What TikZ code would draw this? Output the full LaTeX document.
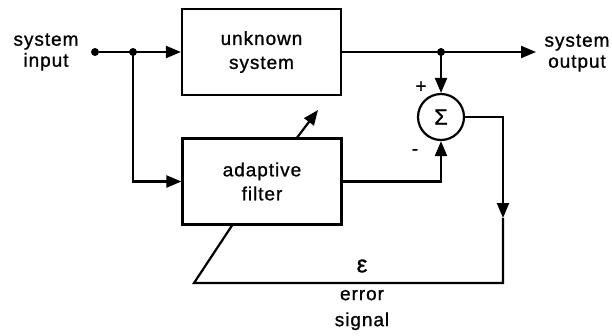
\documentclass[tikz,border=0pt]{standalone}
\usepackage{fontspec}
\setmainfont{Liberation Sans}[LetterSpace=5,FakeBold=1]
\usetikzlibrary{arrows.meta}

\begin{document}
\begin{tikzpicture}[x=1pt,y=-1pt]

    \tikzset{
      block/.style={
        draw,
        line width=2.2pt,
        minimum width=159pt,
        minimum height=86pt,
        inner sep=0pt,
        align=center,
        font=\fontsize{19}{24}\selectfont,
      },
      sumnode/.style={draw, circle, line width=2.2pt, minimum size=46pt, inner sep=0pt, font=\fontsize{22}{22}\selectfont},
      wire/.style={line width=2.2pt},
      flow/.style={wire, -{Triangle[length=15pt,width=12pt]}},
      dot/.style={circle, fill, inner sep=0pt, minimum size=8pt},
      txt/.style={align=center, inner sep=0pt, font=\fontsize{19}{21}\selectfont},
    }
    \useasboundingbox (0,0) rectangle (612,335);

	\node[block] (unknown) at (261.5,52) {unknown\\system};
	\node[block] (afilter) at (262,181.5) {adaptive\\filter};
	\node[sumnode] (sum) at (441,117) {Σ};

	\node[dot] (in) at (95,52) {};
	\node[dot] (split) at (133,52) {};
	\node[dot] (tap) at (441,52) {};
	\coordinate (outend) at (536,52);
	\coordinate (errdrop) at (503,218);
	\coordinate (errcorner) at (503,283);
	\coordinate (errleft) at (194,283);
	\coordinate (errhit) at (233,224);
	\coordinate (tunefrom) at (296,139);
	\coordinate (tuneto) at (318,110);

	\draw[flow] (in) -- (unknown.west);
	\draw[flow] (split.center) |- (afilter.west);
	\draw[flow] (unknown.east) -- (outend);
	\draw[flow] (tap.center) -- (sum.north);
	\draw[flow] (afilter.east) -| (sum.south);
	\draw[flow] (sum.east) -| (errdrop);
	\draw[wire] (errdrop) -- (errcorner) -- (errleft) -- (errhit);
	\draw[flow] (tunefrom) -- (tuneto);

	\node[txt] (inlabel) at (46,52) {system\\input};
	\node[txt] (outlabel) at (577,53) {system\\output};
	\node[txt] (plus) at (421,87) {+};
	\node[txt] (minus) at (415,152) {-};
	\node[txt, font=\fontsize{24}{24}\selectfont] (eps) at (362,266) {ε};
	\node[txt, font=\fontsize{19}{26}\selectfont] (errlabel) at (362,310) {error\\signal};

\end{tikzpicture}
\end{document}
